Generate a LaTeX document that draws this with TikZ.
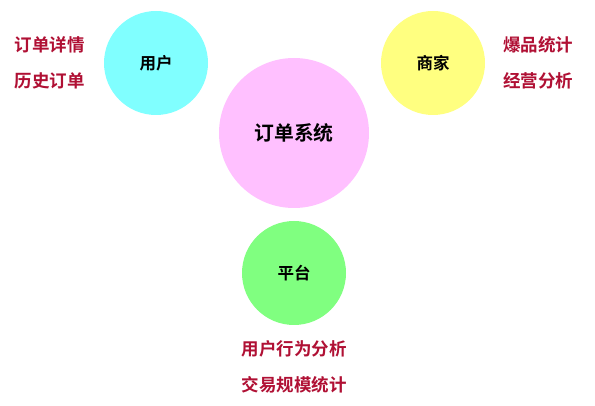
\documentclass[tikz,border=0pt]{standalone}
\usepackage{fontspec}
\newfontfamily\cjk{Noto Sans CJK SC Bold}
\definecolor{lab}{RGB}{176,16,52}
\definecolor{ccyan}{RGB}{128,255,255}
\definecolor{cyel}{RGB}{255,255,128}
\definecolor{cpink}{RGB}{255,192,255}
\definecolor{cgreen}{RGB}{128,255,128}
\begin{document}
\begin{tikzpicture}[x=1pt,y=-1pt,
  bub/.style={circle,inner sep=0pt,font=\cjk\fontsize{16.5}{19}\selectfont,text=black},
  lbl/.style={inner sep=0pt,font=\cjk\fontsize{17.5}{20}\selectfont,text=lab}]
\useasboundingbox (0,0) rectangle (595,406);
\fill[white] (0,0) rectangle (595,406);
\node[bub,fill=ccyan,minimum size=104pt] (user) at (156,63) {用户};
\node[bub,fill=cyel,minimum size=104pt] (shop) at (433,63) {商家};
\node[bub,fill=cpink,minimum size=150pt,font=\cjk\fontsize{19.8}{23}\selectfont] (sys) at (294,133) {订单系统};
\node[bub,fill=cgreen,minimum size=104pt] (plat) at (294,273) {平台};
\node[lbl] (u1) at (50,45) {订单详情};
\node[lbl] (u2) at (50,81) {历史订单};
\node[lbl] (s1) at (538,45) {爆品统计};
\node[lbl] (s2) at (538,81) {经营分析};
\node[lbl] (p1) at (294,349) {用户行为分析};
\node[lbl] (p2) at (294,385) {交易规模统计};
\end{tikzpicture}
\end{document}
